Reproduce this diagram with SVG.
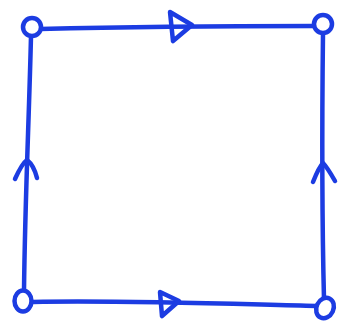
<svg xmlns="http://www.w3.org/2000/svg" width="342" height="325" viewBox="0 0 342 325">
<style>
.ln{fill:none;stroke:#1c3ce2;stroke-width:4.5;stroke-linecap:round;stroke-linejoin:round}
.nd{fill:#fff;stroke:#1c3ce2;stroke-width:4.5}
</style>
<rect width="342" height="325" fill="#fff"/>
<g id="connectors">
<path class="ln" d="M40,29 C120,27 230,26 314,26"/>
<path class="ln" d="M170,12 L192,25 L173,41 Z"/>
<path class="ln" d="M31,36 C29,120 25,200 24,291"/>
<path class="ln" d="M15,179 C20,168 24,162 27,160 C31,163 35,170 37,178"/>
<path class="ln" d="M323,33 C322,120 322,220 324,299"/>
<path class="ln" d="M313,182 C317,172 320,166 323,163 C327,167 331,174 335,181"/>
<path class="ln" d="M33,302 C120,300 230,304 316,306"/>
<path class="ln" d="M160,292 L179,301 L162,316 Z"/>
</g>
<g id="node-tl"><circle class="nd" cx="32" cy="27" r="9"/></g>
<g id="node-tr"><circle class="nd" cx="323" cy="24" r="9"/></g>
<g id="node-bl"><ellipse class="nd" cx="23" cy="301" rx="8.5" ry="10.5"/></g>
<g id="node-br"><ellipse class="nd" cx="325" cy="308" rx="8.5" ry="10.5" transform="rotate(25 325 308)"/></g>
</svg>
